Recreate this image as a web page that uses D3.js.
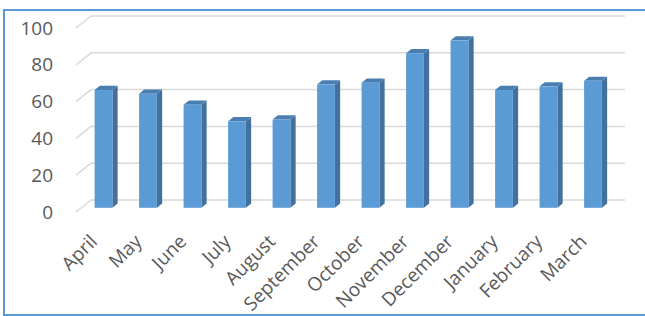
<!DOCTYPE html>
<html>
<head>
<meta charset="utf-8">
<script src="https://cdn.jsdelivr.net/npm/d3@7"></script>
<style>
  html, body { margin: 0; padding: 0; background: #fff; }
  svg { display: block; }
</style>
</head>
<body>
<svg id="chart" width="645" height="316"></svg>
<script>
// Monthly values
const months = ["April", "May", "June", "July", "August", "September",
    "October", "November", "December", "January", "February", "March"];
const values = [64, 62, 56, 47, 48, 67, 68, 84, 91, 64, 66, 69];
const yTicks = [0, 20, 40, 60, 80, 100];

function init_bar_chart_months() {
    const svg = d3.select("#chart");
    const font = "'Open Sans', sans-serif";

    // back wall of the 3D plot area
    const x = d3.scaleBand().domain(months).range([91, 625])
        .paddingInner(0.6).paddingOuter(0.3);
    const y = d3.scaleLinear().domain([0, 100]).range([200, 16]);

    // oblique depth: full floor depth and where the bars sit in it
    const depth = { dx: -15, dy: 12 };
    const barFront = 0.65, barBack = 0.3;

    // outer border of the chart
    svg.append("rect")
        .attr("x", 4).attr("y", 10)
        .attr("width", 700).attr("height", 305)
        .attr("fill", "none")
        .attr("stroke", "#5B9BD5")
        .attr("stroke-width", 2);

    // gridlines on back wall plus the diagonal on the side wall
    const grid = svg.append("g");
    yTicks.forEach(t => {
        grid.append("line")
            .attr("x1", x.range()[0]).attr("x2", x.range()[1])
            .attr("y1", y(t)).attr("y2", y(t))
            .attr("stroke", "#D9D9D9").attr("stroke-width", 1.5);
        grid.append("line")
            .attr("x1", x.range()[0]).attr("y1", y(t))
            .attr("x2", x.range()[0] + depth.dx).attr("y2", y(t) + depth.dy)
            .attr("stroke", "#D9D9D9").attr("stroke-width", 1.5);
    });

    // y tick labels, at the front end of each diagonal
    svg.append("g").selectAll("text")
        .data(yTicks)
        .join("text")
        .attr("x", 53)
        .attr("y", d => y(d) + depth.dy)
        .attr("dy", "0.35em")
        .attr("text-anchor", "end")
        .style("font-family", font)
        .style("font-size", "19px")
        .style("fill", "#595959")
        .text(d => d);

    // 3D columns: front face, side face and top face
    const fx = barFront * depth.dx, fy = barFront * depth.dy;
    const bx = barBack * depth.dx, by = barBack * depth.dy;
    const sx = bx - fx, sy = by - fy;   // front -> back shift
    const bw = x.bandwidth();

    const bars = svg.append("g").selectAll("g")
        .data(months.map((m, i) => ({ m, v: values[i] })))
        .join("g")
        .attr("transform", d => `translate(${x(d.m) + fx},${fy})`);

    bars.append("path")
        .attr("fill", "#41719C")
        .attr("d", d => {
            const top = y(d.v), base = y(0);
            return `M${bw},${top} L${bw + sx},${top + sy} L${bw + sx},${base + sy} L${bw},${base} Z`;
        });

    bars.append("path")
        .attr("fill", "#4A7EB0")
        .attr("d", d => {
            const top = y(d.v);
            return `M0,${top} L${sx},${top + sy} L${bw + sx},${top + sy} L${bw},${top} Z`;
        });

    bars.append("rect")
        .attr("x", 0)
        .attr("y", d => y(d.v))
        .attr("width", bw)
        .attr("height", d => y(0) - y(d.v))
        .attr("fill", "#5B9BD5");

    // rotated month labels under the floor
    svg.append("g").selectAll("text")
        .data(months)
        .join("text")
        .attr("text-anchor", "end")
        .attr("transform", d => `translate(${x(d) + fx + bw / 2 - 5},${y(0) + fy + 35}) rotate(-45)`)
        .style("font-family", font)
        .style("font-size", "19px")
        .style("fill", "#595959")
        .text(d => d);
}

init_bar_chart_months();
</script>
</body>
</html>
